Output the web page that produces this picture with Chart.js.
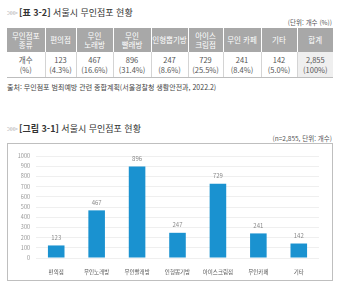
<!DOCTYPE html>
<html lang="ko">
<head>
<meta charset="utf-8">
<script src="https://cdn.jsdelivr.net/npm/chart.js@4"></script>
<style>
  html, body { margin: 0; padding: 0; background: #fff; }
  body { width: 340px; height: 290px; position: relative; overflow: hidden;
         font-family: "Noto Sans CJK KR", "Noto Sans", sans-serif; color: #333; }
  .title { position: absolute; left: 7px; font-size: 9px; line-height: 11px; white-space: nowrap; }
  .title .arr { color: #c4c4c4; letter-spacing: -2px; margin-right: 3px; }
  .title b { font-weight: 700; }
  .unit { position: absolute; right: 8px; font-size: 6.5px; color: #555; white-space: nowrap; }
  table { position: absolute; left: 7px; top: 28px; width: 326px; border-collapse: collapse;
          table-layout: fixed; font-size: 7.5px; }
  th { background: #a8a8a8; color: #fff; font-weight: 400; height: 24px; padding: 0;
       line-height: 9.5px; border-left: 1px solid #fff; }
  th:first-child { border-left: none; }
  td { height: 25px; padding: 0; text-align: center; line-height: 10px; color: #555;
       border-left: 1px solid #d4d4d4; border-bottom: 1px solid #bdbdbd; }
  td:first-child { border-left: none; }
  td.total { background: #efefef; }
  .src { position: absolute; left: 7px; top: 82px; font-size: 7px; color: #444; white-space: nowrap; }
  .box { position: absolute; left: 7px; top: 143px; width: 324px; height: 136px;
         border: 1px solid #bfbfbf; }
  canvas { position: absolute; left: 0; top: 0; }
</style>
</head>
<body>
<div class="title" style="top:7px"><span class="arr">&gt;&gt;&gt;</span><b>[표 3-2]</b> 서울시 무인점포 현황</div>
<div class="unit" style="top:17px">(단위: 개수 (%))</div>
<table id="tbl"></table>
<div class="src">출처: 무인점포 범죄예방 관련 종합계획(서울경찰청 생활안전과, 2022.2)</div>
<div class="title" style="top:123px"><span class="arr">&gt;&gt;&gt;</span><b>[그림 3-1]</b> 서울시 무인점포 현황</div>
<div class="unit" style="top:133px">(n=2,855, 단위: 개수)</div>
<div class="box"><canvas id="chart" width="324" height="136"></canvas></div>
<script>
// table data
const tableHeaders = ["무인점포<br>종류", "편의점", "무인<br>노래방", "무인<br>빨래방", "인형뽑기방", "아이스<br>크림점", "무인 카페", "기타", "합계"];
const tableCounts = ["123", "467", "896", "247", "729", "241", "142", "2,855"];
const tablePercents = ["4.3%", "16.6%", "31.4%", "8.6%", "25.5%", "8.4%", "5.0%", "100%"];
const colWidths = [38, 31, 37, 38, 37, 35, 38, 36, 36];

// chart data
const categories = ["편의점", "무인노래방", "무인빨래방", "인형뽑기방", "아이스크림점", "무인카페", "기타"];
const counts = [123, 467, 896, 247, 729, 241, 142];

// build table
const tbl = document.getElementById("tbl");
let html = "<colgroup>" + colWidths.map(w => `<col style="width:${w}px">`).join("") + "</colgroup>";
html += "<tr>" + tableHeaders.map(h => `<th>${h}</th>`).join("") + "</tr>";
html += "<tr><td>개수<br>(%)</td>";
tableCounts.forEach((c, i) => {
  const cls = i === tableCounts.length - 1 ? ' class="total"' : "";
  html += `<td${cls}>${c}<br>(${tablePercents[i]})</td>`;
});
html += "</tr>";
tbl.innerHTML = html;

// value labels above bars
const valueLabels = {
  id: "valueLabels",
  afterDatasetsDraw(chart) {
    const ctx = chart.ctx;
    const meta = chart.getDatasetMeta(0);
    ctx.save();
    ctx.font = '6px "Noto Sans CJK KR"';
    ctx.fillStyle = "#8a8a8a";
    ctx.textAlign = "center";
    ctx.textBaseline = "bottom";
    meta.data.forEach((bar, i) => {
      ctx.fillText(chart.data.datasets[0].data[i], bar.x, bar.y - 5);
    });
    ctx.restore();
  }
};

const ctx = document.getElementById("chart").getContext("2d");
new Chart(ctx, {
  type: "bar",
  data: {
    labels: categories,
    datasets: [{
      data: counts,
      backgroundColor: "#1a92d0",
      barPercentage: 0.82,
      categoryPercentage: 0.5
    }]
  },
  options: {
    responsive: false,
    animation: false,
    layout: { padding: { top: 12, right: 13, bottom: 0, left: 0 } },
    plugins: { legend: { display: false }, tooltip: { enabled: false } },
    scales: {
      x: {
        grid: { display: false },
        border: { display: false },
        ticks: { font: { size: 5.5, family: "Noto Sans CJK KR" }, color: "#555", padding: 3, maxRotation: 0 },
        afterFit: s => { s.height = 22; }
      },
      y: {
        min: 0, max: 1000,
        ticks: {
          stepSize: 100,
          callback: v => String(v),
          font: { size: 5.5, family: "Noto Sans CJK KR" }, color: "#999", padding: 6
        },
        grid: { color: "#efefef", drawTicks: false },
        border: { display: false },
        afterFit: s => { s.width = 28; }
      }
    }
  },
  plugins: [valueLabels]
});
</script>
</body>
</html>
